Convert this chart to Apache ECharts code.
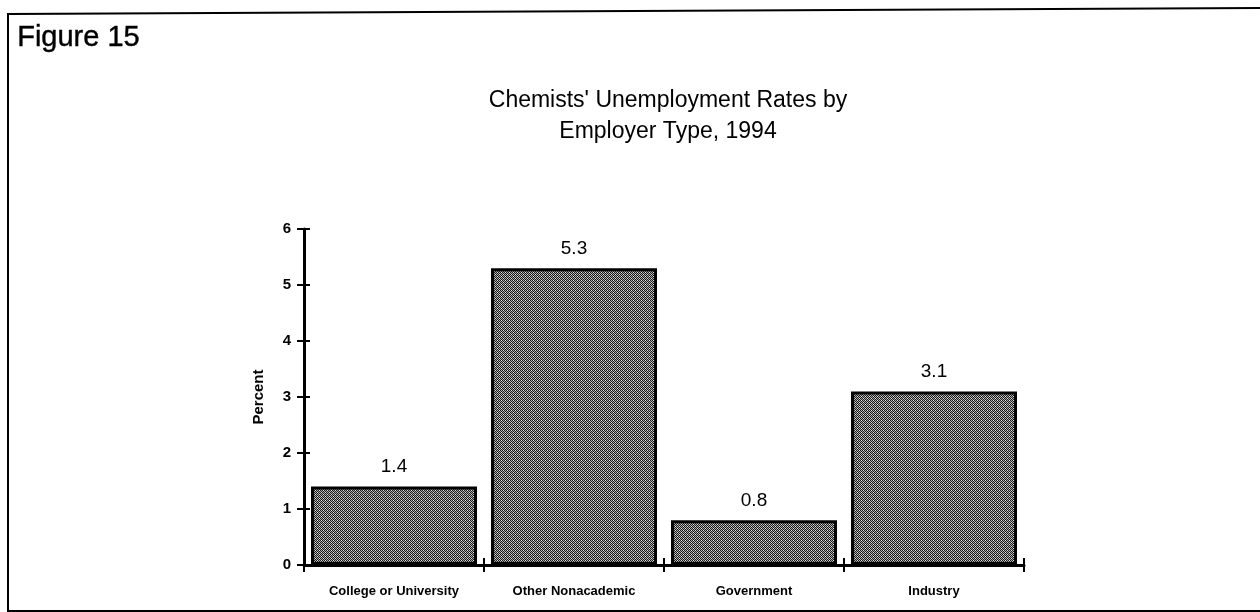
<!DOCTYPE html>
<html>
<head>
<meta charset="utf-8">
<script src="https://cdn.jsdelivr.net/npm/echarts@6/dist/echarts.min.js"></script>
<style>
html,body{margin:0;padding:0;background:#fff;}
#chart{width:1260px;height:612px;}
</style>
</head>
<body>
<div id="chart"></div>
<script>
const figureLabel = 'Figure 15';
const titleLines = ["Chemists' Unemployment Rates by", 'Employer Type, 1994'];
const categories = ['College or University', 'Other Nonacademic', 'Government', 'Industry'];
const rates = [1.4, 5.3, 0.8, 3.1];
const yAxisName = 'Percent';

// halftone fill pattern
const pc = document.createElement('canvas');
pc.width = 4; pc.height = 4;
const px = pc.getContext('2d');
px.fillStyle = '#a8a8a8'; px.fillRect(0,0,4,4);
px.fillStyle = '#1a1a1a';
[[0,0],[2,0],[1,1],[3,1],[0,2],[2,2],[1,3],[3,3]].forEach(function(p){ px.fillRect(p[0],p[1],1,1); });
px.fillStyle = '#e8e8e8';
px.fillRect(1,0,1,1); px.fillRect(3,2,1,1);

const chart = echarts.init(document.getElementById('chart'), null, {renderer:'canvas'});
const font = 'Liberation Sans, Arial, sans-serif';
chart.setOption({
  animation: false,
  backgroundColor: '#fff',
  graphic: [
    {type:'polyline', shape:{points:[[1262,8],[8,14],[8,611],[1262,611]]}, style:{fill:'none', stroke:'#000', lineWidth:2}},
    {type:'text', left:17, top:23, style:{text:figureLabel, font:'29px ' + font, fill:'#000', stroke:'#000', lineWidth:0.4}},
    {type:'text', x:668, y:85, style:{text:titleLines.join('\n'), font:'23px ' + font, fill:'#000', align:'center', verticalAlign:'top', lineHeight:31, letterSpacing:-0.2}}
  ],
  grid: {left:304, right:236, top:229, bottom:47, containLabel:false},
  xAxis: [{
    type:'category', data:categories,
    axisLine:{lineStyle:{color:'#000', width:3}},
    axisTick:{show:true, length:7, alignWithLabel:false, lineStyle:{color:'#000', width:2}},
    axisLabel:{color:'#000', fontFamily:font, fontWeight:'bold', fontSize:13, margin:20, letterSpacing:-0.5}
  },{
    type:'category', data:categories, position:'bottom',
    axisLine:{show:false},
    axisTick:{show:true, inside:true, length:7, lineStyle:{color:'#000', width:2}},
    axisLabel:{show:false}
  }],
  yAxis: [{
    type:'value', min:0, max:6, interval:1,
    name:yAxisName, nameLocation:'middle', nameGap:38,
    nameTextStyle:{color:'#000', fontFamily:font, fontWeight:'bold', fontSize:15, letterSpacing:-0.3},
    axisLine:{show:true, lineStyle:{color:'#000', width:3}},
    axisTick:{show:true, length:7, lineStyle:{color:'#000', width:2}},
    axisLabel:{color:'#000', fontFamily:font, fontWeight:'bold', fontSize:15, margin:13},
    splitLine:{show:false}
  },{
    type:'value', min:0, max:6, interval:1, position:'left',
    axisLine:{show:false},
    axisTick:{show:true, inside:true, length:6, lineStyle:{color:'#000', width:2}},
    axisLabel:{show:false},
    splitLine:{show:false}
  }],
  series: [{
    type:'bar', data:rates, barWidth:166,
    itemStyle:{color:{image:pc, repeat:'repeat'}, borderColor:'#000', borderWidth:3},
    label:{show:true, position:'top', distance:10, color:'#000', fontFamily:font, fontSize:19}
  }]
});
</script>
</body>
</html>
